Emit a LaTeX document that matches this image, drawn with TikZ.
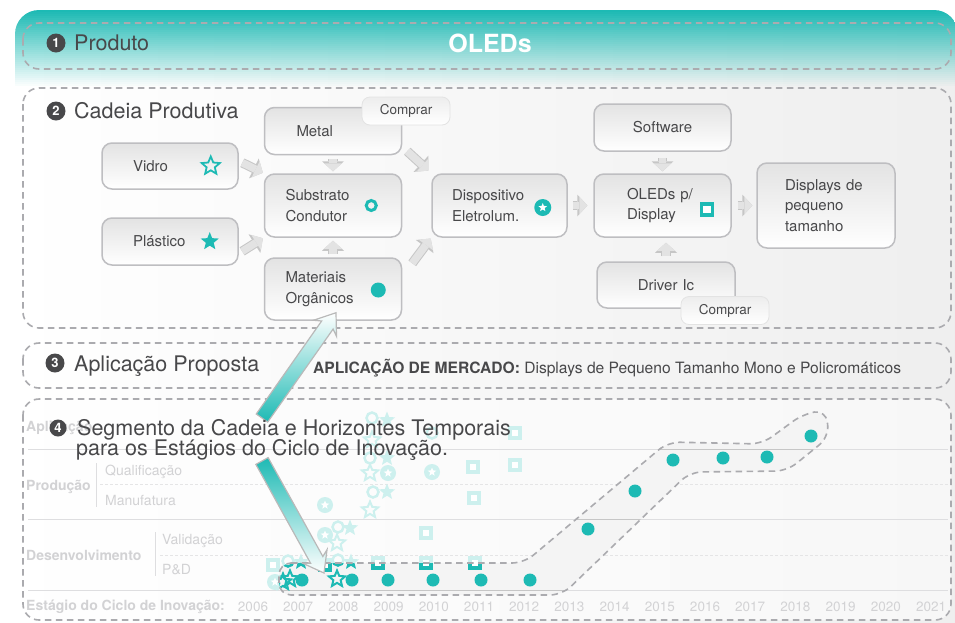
\documentclass[tikz,border=0pt]{standalone}
\usepackage{fontspec}
\setmainfont{TeX Gyre Heros}
\usetikzlibrary{positioning,arrows.meta,calc,shapes.geometric}

\definecolor{oledteal}{HTML}{1DBAB4}
\definecolor{dashgray}{HTML}{ABABAF}
\definecolor{boxgray}{HTML}{BEBEC1}
\definecolor{titlegray}{HTML}{48484A}
\definecolor{labelgray}{HTML}{D2D2D4}
\definecolor{gridgray}{HTML}{DEDEE0}

\begin{document}
\begin{tikzpicture}[x=1pt, y=-1pt,
  painel/.style={draw=dashgray, line width=1.6pt, dash pattern=on 6.5pt off 4.5pt, rounded corners=16pt},
  num/.style={circle, fill=titlegray, text=white, font=\bfseries\fontsize{13}{13}\selectfont, inner sep=0pt, minimum size=19pt},
  titulo/.style={anchor=base west, inner sep=0pt, text=titlegray, font=\fontsize{21.5}{22}\selectfont},
  etapa/.style={draw=boxgray, line width=1.5pt, rounded corners=10pt, top color=gray!22, bottom color=white, align=left, text=titlegray, font=\fontsize{15}{20.5}\selectfont, inner ysep=0pt},
  etiqueta/.style={rounded corners=8pt, top color=gray!14, bottom color=white, draw=gray!22, line width=0.8pt, minimum width=88pt, minimum height=28pt, inner sep=0pt, text=titlegray, font=\fontsize{13.5}{15}\selectfont},
  seta/.style={-{Triangle[length=8pt, width=18pt, line width=0pt]}, line width=7.5pt, draw=gray!22,
    preaction={draw=gray!45, line width=9.5pt, -{Triangle[length=10pt, width=22pt, line width=0pt]}}},
  setagrande/.style={draw=gray!55, line width=1.2pt, line join=miter, middle color=oledteal!55},
  grade/.style={draw=gridgray, line width=1pt},
  gradeleve/.style={draw=gridgray!80, line width=0.8pt, dash pattern=on 3pt off 2pt},
  rotulo/.style={anchor=west, inner sep=0pt, text=labelgray, font=\fontsize{14}{14}\selectfont},
  rotulon/.style={rotulo, font=\bfseries\fontsize{14}{14}\selectfont},
  ano/.style={inner sep=0pt, text=labelgray, font=\fontsize{13.5}{14}\selectfont},
  anel/.style={circle, draw=#1, line width=2.5pt, inner sep=0pt, minimum size=11pt}, anel/.default={oledteal!22},
  estrela/.style={star, star points=5, star point ratio=2.3, fill=#1, inner sep=0pt, minimum size=17pt}, estrela/.default={oledteal!22},
  estrelav/.style={star, star points=5, star point ratio=2.2, draw=#1, line width=2pt, inner sep=0pt, minimum size=17pt}, estrelav/.default={oledteal!22},
  circest/.style={circle, fill=#1, inner sep=0pt, minimum size=16pt,
    path picture={\node[star, star points=5, star point ratio=2.3, fill=white, inner sep=0pt, minimum size=9pt] at (path picture bounding box.center) {};}}, circest/.default={oledteal!22},
  quadr/.style={rectangle, draw=#1, line width=3.2pt, fill=white, inner sep=0pt, minimum size=10pt}, quadr/.default={oledteal!22},
  ponto/.style={circle, fill=oledteal, inner sep=0pt, minimum size=13pt}]
\useasboundingbox (0,0) rectangle (955,622);

% fundo e faixa do titulo
\shade[left color=white, right color=gray!13, rounded corners=24pt] (15,10) rectangle (958,650);
\begin{scope}
  \clip[rounded corners=24pt] (15,10) rectangle (958,120);
  \foreach \i in {0,...,37}
    \fill[oledteal, opacity={1-\i/38}] (15,10+2*\i) rectangle (958,12+2*\i);
\end{scope}

% paineis
\draw[painel] (23,23) rectangle (951,69);
\draw[painel] (23,88) rectangle (951,328);
\draw[painel] (23,343) rectangle (951,388);
\draw[painel, fill=white, fill opacity=0.55] (23,399) rectangle (951,620);

% 1 Produto
\node[num] (n1) at (56,43) {1};
\node[titulo] (produto) at (74,50) {Produto};
\node[anchor=base, inner sep=0pt, text=white, font=\bfseries\fontsize{25}{25}\selectfont] (oleds) at (490,52) {OLEDs};

% 2 Cadeia Produtiva
\node[num] (n2) at (56,111) {2};
\node[titulo] (cadeia) at (74,118) {Cadeia Produtiva};

\node[etapa, text width=73pt, inner xsep=32pt, minimum height=47pt] (metal) at (333,131) {Metal};
\node[etiqueta] (compra1) at (406,111) {Comprar};
\node[etapa, text width=74pt, inner xsep=31pt, minimum height=46pt] (vidro) at (170,166) {Vidro};
\node[etapa, text width=74pt, inner xsep=31pt, minimum height=47pt] (plastico) at (170,241.5) {Plástico};
\node[etapa, text width=95pt, inner xsep=21pt, minimum height=63pt] (subs) at (333,205.5) {Substrato\\Condutor};
\node[etapa, text width=95pt, inner xsep=21pt, minimum height=62pt] (mat) at (333,289) {Materiais\\Orgânicos};
\node[etapa, text width=95pt, inner xsep=20pt, minimum height=63pt] (disp) at (499.5,205.5) {Dispositivo\\Eletrolum.};
\node[etapa, align=center, text width=97pt, inner xsep=20pt, minimum height=47pt] (software) at (662.5,127.5) {Software};
\node[etapa, text width=71pt, inner xsep=33pt, minimum height=63pt] (oled) at (662.5,205.5) {OLEDs p/\\Display};
\node[etapa, text width=82pt, inner xsep=28pt, minimum height=85pt] (displays) at (826,205.5) {Displays de\\pequeno\\tamanho};
\node[etapa, align=center, text width=98pt, inner xsep=20pt, minimum height=46pt] (driver) at (666,285) {Driver Ic};
\node[etiqueta] (compra2) at (725,310.5) {Comprar};

% icones
\node[estrelav=oledteal, minimum size=19pt, line width=1.8pt] (icovidro) at ([xshift=-28pt]vidro.east) {};
\node[estrela=oledteal, minimum size=19pt] (icoplast) at ([xshift=-29pt]plastico.east) {};
\node[anel=oledteal, minimum size=10pt, line width=3pt] (icosubs) at ([xshift=-31pt]subs.east) {};
\node[ponto, minimum size=15pt] (icomat) at ([xshift=-24pt, yshift=-1pt]mat.east) {};
\node[circest=oledteal, minimum size=17pt] (icodisp) at ([xshift=-25pt, yshift=-2pt]disp.east) {};
\node[quadr=oledteal, minimum size=11pt, line width=3.5pt] (icooled) at ([xshift=-25pt, yshift=-4pt]oled.east) {};

% setas da cadeia
\draw[seta, shorten <=4pt, shorten >=1pt] ([yshift=5pt]vidro.east) -- (subs.north west);
\draw[seta, shorten <=4pt, shorten >=1pt] ([yshift=-12pt]plastico.east) -- (subs.south west);
\draw[seta, shorten <=4pt, shorten >=2pt] (metal) -- (subs);
\draw[seta, shorten <=3pt, shorten >=3pt] (mat) -- (subs);
\draw[seta, shorten >=4pt] ([xshift=5pt, yshift=4pt]metal.south east) -- (disp.north west);
\draw[seta, shorten >=1pt] ([xshift=10pt, yshift=-6pt]mat.north east) -- (disp.south west);
\draw[seta, shorten <=5pt, shorten >=6pt] (disp) -- (oled);
\draw[seta, shorten <=6pt, shorten >=2pt] (software) -- (oled);
\draw[seta, shorten <=5pt, shorten >=5pt] (driver) -- (driver |- oled.south);
\draw[seta, shorten <=6pt, shorten >=4pt] (oled) -- (displays);

% 3 Aplicacao Proposta
\node[num] (n3) at (55,363) {3};
\node[titulo] (aplic) at (74,371) {Aplicação Proposta};
\node[anchor=base west, inner sep=0pt, text=titlegray, font=\fontsize{15.6}{16}\selectfont] (mercado) at (313,373)
  {\textbf{APLICAÇÃO DE MERCADO:} Displays de Pequeno Tamanho Mono e Policromáticos};

% 4 grade do ciclo de inovacao
\foreach \y in {449,519,590} \draw[grade] (28,\y) -- (948,\y);
\draw[gradeleve] (100,484) -- (948,484);
\draw[gradeleve] (160,555) -- (948,555);
\draw[grade] (96,463) -- (96,507);
\draw[grade] (155,532) -- (155,576);

\node[rotulon] (laplic) at (26,428) {Aplicação};
\node[rotulon] (lprod) at (26,487) {Produção};
\node[rotulo] (lqual) at (105,472) {Qualificação};
\node[rotulo] (lmanuf) at (105,500) {Manufatura};
\node[rotulon] (ldesenv) at (26,555) {Desenvolvimento};
\node[rotulo] (lvalid) at (162,541) {Validação};
\node[rotulo] (lpd) at (162,570) {P\&D};
\node[rotulon] (lestagio) at (26,607) {Estágio do Ciclo de Inovação:};
\foreach \a [count=\i from 0] in {2006,...,2021}
  \node[ano] (ano\a) at (253+45.2*\i,607) {\a};

% marcadores esmaecidos
\foreach \x/\y [count=\i] in {372/418, 370/458, 373/492, 338/527, 288/561, 338/560, 432/433}
  \node[anel] (anel\i) at (\x,\y) {};
\foreach \x/\y [count=\i] in {387/420, 387/458, 387/492, 350/528, 301/562, 351/562}
  \node[estrela] (estr\i) at (\x,\y) {};
\foreach \x/\y [count=\i] in {372/440, 370/473, 370/510, 337/543, 283/582}
  \node[estrelav] (estv\i) at (\x,\y) {};
\foreach \x/\y [count=\i] in {388/473, 325/505, 325/535, 275/582, 432/472}
  \node[circest] (cest\i) at (\x,\y) {};
\foreach \x/\y [count=\i] in {273/565, 325/565, 378/563, 426/563, 475/563, 426/533, 474/498, 473/467, 515/465, 515/433}
  \node[quadr] (quad\i) at (\x,\y) {};

% faixa do segmento
\def\faixa{(279,563) -- (524,563) -- (668,442) -- (762,444) -- (803,414) -- (826,410) -- (829,437) -- (787,471) -- (690,472) -- (562,595) -- (279,595) -- cycle}
\fill[gray!9, rounded corners=12pt] \faixa;
\begin{scope}
  \clip[rounded corners=12pt] \faixa;
  \foreach \y in {449,519,590} \draw[gray!45, line width=1pt] (28,\y) -- (948,\y);
  \foreach \x/\y [count=\i] in {288/561, 338/560} \node[anel=oledteal] (anelf\i) at (\x,\y) {};
  \foreach \x/\y [count=\i] in {301/562, 351/562} \node[estrela=oledteal] (estrf\i) at (\x,\y) {};
  \foreach \x/\y [count=\i] in {325/565, 378/563, 426/563, 475/563} \node[quadr=oledteal] (quadf\i) at (\x,\y) {};
  \node[estrelav=oledteal] (estvf1) at (283,582) {};
\end{scope}
\draw[painel, rounded corners=12pt] \faixa;

\foreach \x/\y [count=\i] in {302/580, 352/580, 388/580, 433/580, 481/580, 530/580, 588/529, 635/491, 673/460, 723/458, 767/457, 811/436}
  \node[ponto] (p\i) at (\x,\y) {};
\node[estrelav=oledteal] (ev1) at (290,579) {};
\node[estrelav=oledteal] (ev2) at (337,579) {};

% setas grandes
\coordinate (c1) at (262,418);
\coordinate (c1tip) at ([xshift=3pt, yshift=8pt]mat.south);
\coordinate (h1) at ($(c1tip)!15pt!(c1)$);
\coordinate (hb1) at ($(c1tip)!19pt!(c1)$);
\draw[setagrande, bottom color=oledteal, top color=white]
  ($(c1)!7pt!90:(c1tip)$) -- ($(h1)!7pt!90:(c1tip)$) -- ($(hb1)!14pt!90:(c1tip)$) -- (c1tip)
  -- ($(hb1)!14pt!-90:(c1tip)$) -- ($(h1)!7pt!-90:(c1tip)$) -- ($(c1)!7pt!-90:(c1tip)$) -- cycle;
\coordinate (c2) at (262,461);
\coordinate (c2tip) at (324,573);
\coordinate (h2) at ($(c2tip)!15pt!(c2)$);
\coordinate (hb2) at ($(c2tip)!19pt!(c2)$);
\draw[setagrande, top color=oledteal, bottom color=white]
  ($(c2)!7pt!90:(c2tip)$) -- ($(h2)!7pt!90:(c2tip)$) -- ($(hb2)!14pt!90:(c2tip)$) -- (c2tip)
  -- ($(hb2)!14pt!-90:(c2tip)$) -- ($(h2)!7pt!-90:(c2tip)$) -- ($(c2)!7pt!-90:(c2tip)$) -- cycle;

% 4 titulo
\node[num, minimum size=17pt] (n4) at (58,428) {4};
\node[titulo] (seg1) at (77,435) {Segmento da Cadeia e Horizontes Temporais};
\node[titulo] (seg2) at (76,455) {para os Estágios do Ciclo de Inovação.};
\end{tikzpicture}
\end{document}
